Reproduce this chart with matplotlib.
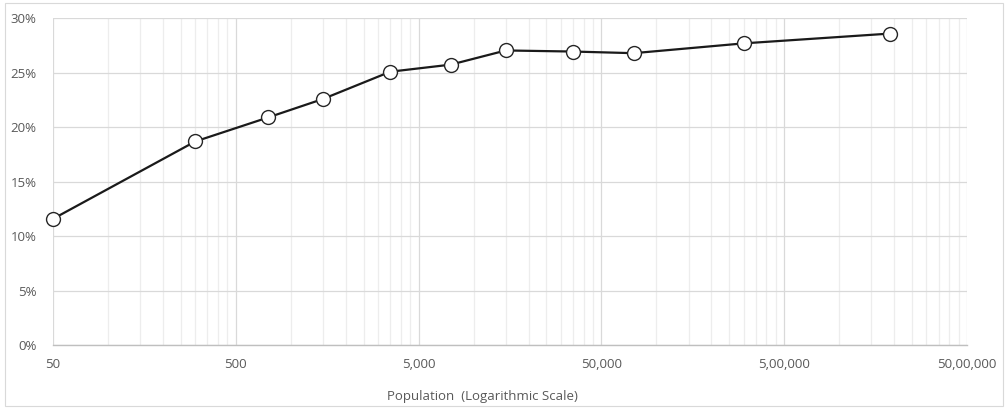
import matplotlib.pyplot as plt
import matplotlib.patches as mpatches
from matplotlib.ticker import FixedLocator, NullFormatter

# -- data -- #
population = [50, 300, 750, 1500, 3500, 7500, 15000, 35000, 75000, 300000, 1900000]
share = [11.6, 18.7, 20.9, 22.6, 25.1, 25.75, 27.05, 26.95, 26.8, 27.7, 28.6]

x_ticks = [50, 500, 5000, 50000, 500000, 5000000]
x_tick_labels = ["50", "500", "5,000", "50,000", "5,00,000", "50,00,000"]
y_ticks = [0, 5, 10, 15, 20, 25, 30]

text_color = "#595959"
plt.rcParams['font.family'] = ['Open Sans', 'DejaVu Sans']

fig = plt.figure(figsize=(10.08, 4.09), dpi=100)
ax = fig.add_axes([53 / 1008, 1 - 345.3 / 409, 914 / 1008, 327 / 409])

ax.plot(population, share, color="#1a1a1a", linewidth=1.6,
        marker="o", markersize=10, markerfacecolor="white",
        markeredgecolor="#262626", markeredgewidth=1.0, zorder=3,
        clip_on=False)

ax.set_xscale("log")
ax.set_xlim(50, 5000000)
ax.set_ylim(0, 30)

ax.xaxis.set_major_locator(FixedLocator(x_ticks))
ax.set_xticklabels(x_tick_labels)
minor = [50 * 10 ** d * k for d in range(5) for k in range(2, 10)]
ax.xaxis.set_minor_locator(FixedLocator(minor))
ax.xaxis.set_minor_formatter(NullFormatter())

ax.set_yticks(y_ticks)
ax.set_yticklabels([f"{v}%" for v in y_ticks])

ax.grid(which="major", axis="both", color="#d9d9d9", linewidth=0.9)
ax.grid(which="minor", axis="x", color="#ededed", linewidth=0.9)
ax.set_axisbelow(True)

for s in ["top", "right", "left"]:
    ax.spines[s].set_visible(False)
ax.spines["bottom"].set_color("#bfbfbf")
ax.spines["bottom"].set_linewidth(1.0)

ax.tick_params(axis="both", which="both", length=0, colors=text_color, labelsize=9.5)
ax.tick_params(axis="x", pad=9)
ax.tick_params(axis="y", pad=12)

ax.set_xlabel("Population  (Logarithmic Scale)", color=text_color, fontsize=9.5)
ax.xaxis.set_label_coords((482 - 53) / 914, -0.137)

# chart area border
fig.patches.append(mpatches.Rectangle((5 / 1008, 3 / 409), 998 / 1008, 403 / 409,
                                      transform=fig.transFigure, fill=False,
                                      edgecolor="#d9d9d9", linewidth=0.8))

fig.savefig("out.png", dpi=100)
